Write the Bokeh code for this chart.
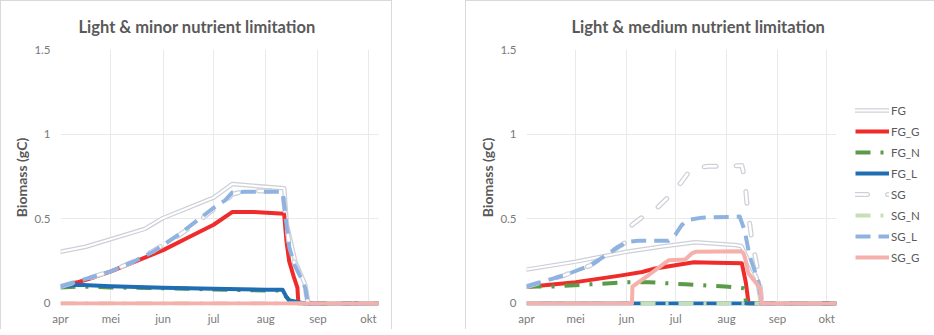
from bokeh.plotting import figure
from bokeh.models import (FixedTicker, Legend, LegendItem, Title, Spacer,
                          NumeralTickFormatter, GlobalInlineStyleSheet)
from bokeh.layouts import row, column
from bokeh.embed import file_html
from bokeh.resources import INLINE

# ---------------- data ----------------
MONTH_DAYS = [0, 30, 61, 91, 122, 153, 183]          # days since 1 April
MONTH_LABELS = ["apr", "mei", "jun", "jul", "aug", "sep", "okt"]
X_END = 189
Y_TICKS = [0, 0.5, 1, 1.5]
SERIES = ["FG", "FG_G", "FG_N", "FG_L", "SG", "SG_N", "SG_L", "SG_G"]

TITLE_LEFT = "Light & minor nutrient limitation"
TITLE_RIGHT = "Light & medium nutrient limitation"

# Left panel: light & minor nutrient limitation
L_FG_x = [0, 15, 30, 50, 61, 91, 102, 133, 134.5, 139.5, 145.5, 147, 148, 189]
L_FG_y = [0.305, 0.335, 0.38, 0.44, 0.505, 0.625, 0.705, 0.68, 0.47, 0.25, 0.11, 0.02, 0, 0]
L_FG_G_x = [0, 10, 20, 30, 45, 61, 75, 91, 102, 115, 132.9, 134.3, 135.9, 138.8, 140.8, 141.4, 189]
L_FG_G_y = [0.10, 0.125, 0.155, 0.19, 0.25, 0.315, 0.385, 0.465, 0.54, 0.54, 0.53, 0.368, 0.25, 0.152, 0.093, 0, 0]
L_FG_N_x = [0, 10, 30, 61, 91, 122, 132, 134, 136, 140, 145, 189]
L_FG_N_y = [0.095, 0.10, 0.095, 0.09, 0.083, 0.077, 0.077, 0.04, 0.018, 0.008, 0, 0]
L_FG_L_x = [0, 10, 30, 61, 91, 122, 132, 134, 136, 140, 145, 189]
L_FG_L_y = [0.10, 0.11, 0.102, 0.093, 0.087, 0.081, 0.081, 0.043, 0.018, 0.01, 0, 0]
L_SG_x = [0, 10, 20, 30, 45, 55, 61, 70, 80, 91, 98, 102, 110, 132, 134, 136, 139, 143, 145.5, 146.7, 147.2, 189]
L_SG_y = [0.10, 0.13, 0.16, 0.19, 0.255, 0.31, 0.345, 0.40, 0.47, 0.555, 0.60, 0.645, 0.665, 0.665, 0.50, 0.34, 0.24, 0.16, 0.09, 0.02, 0, 0]
L_SG_N_x = [0, 189]
L_SG_N_y = [0, 0]
L_SG_L_x = [0, 10, 20, 30, 45, 55, 61, 70, 80, 91, 98, 102, 110, 132, 134, 136, 139, 143, 145.5, 146.7, 147.2, 189]
L_SG_L_y = [0.10, 0.13, 0.16, 0.19, 0.255, 0.305, 0.345, 0.405, 0.48, 0.565, 0.61, 0.655, 0.66, 0.66, 0.49, 0.33, 0.23, 0.15, 0.09, 0.02, 0, 0]
L_SG_G_x = [0, 189]
L_SG_G_y = [0, 0]

# Right panel: light & medium nutrient limitation
R_FG_x = [0, 30, 61, 82.6, 103, 127, 131, 135, 140.4, 142, 143, 189]
R_FG_y = [0.20, 0.247, 0.306, 0.336, 0.362, 0.345, 0.34, 0.26, 0.15, 0.06, 0, 0]
R_FG_G_x = [0, 30, 58, 70.5, 78.5, 102, 115, 131.3, 133.7, 135.4, 189]
R_FG_G_y = [0.097, 0.126, 0.166, 0.186, 0.207, 0.243, 0.24, 0.237, 0.125, 0, 0]
R_FG_N_x = [0, 16, 39, 62.6, 74.5, 96.7, 121, 132.5, 134, 189]
R_FG_N_y = [0.10, 0.10, 0.113, 0.126, 0.126, 0.113, 0.10, 0.09, 0, 0]
R_FG_L_x = [0, 189]
R_FG_L_y = [0, 0]
R_SG_x = [0, 9.5, 23, 39, 50, 61, 64.3, 72.4, 80.5, 87.6, 94.7, 100.8, 111, 121, 131.3, 133, 134.5, 137.5, 142, 143.5, 189]
R_SG_y = [0.10, 0.128, 0.166, 0.225, 0.295, 0.365, 0.464, 0.523, 0.572, 0.64, 0.72, 0.80, 0.81, 0.81, 0.815, 0.74, 0.58, 0.37, 0.15, 0, 0]
R_SG_N_x = [0, 189]
R_SG_N_y = [0, 0]
R_SG_L_x = [0, 9.5, 23, 39, 50, 56, 62, 68, 86.6, 90.7, 94.7, 98.8, 107, 130, 133, 136, 141.6, 143, 189]
R_SG_L_y = [0.10, 0.128, 0.166, 0.225, 0.295, 0.335, 0.364, 0.37, 0.37, 0.405, 0.464, 0.493, 0.507, 0.513, 0.43, 0.28, 0.125, 0, 0]
R_SG_G_x = [0, 64.3, 64.6, 69, 74.5, 82.6, 86.6, 96.8, 100.8, 103, 131, 132.3, 133.3, 135.3, 139.4, 142.4, 143.4, 189]
R_SG_G_y = [0, 0, 0.10, 0.13, 0.168, 0.227, 0.255, 0.26, 0.296, 0.305, 0.308, 0.296, 0.266, 0.178, 0.128, 0.089, 0, 0]

LEFT = {
    "FG": (L_FG_x, L_FG_y), "FG_G": (L_FG_G_x, L_FG_G_y), "FG_N": (L_FG_N_x, L_FG_N_y),
    "FG_L": (L_FG_L_x, L_FG_L_y), "SG": (L_SG_x, L_SG_y), "SG_N": (L_SG_N_x, L_SG_N_y),
    "SG_L": (L_SG_L_x, L_SG_L_y), "SG_G": (L_SG_G_x, L_SG_G_y),
}
RIGHT = {
    "FG": (R_FG_x, R_FG_y), "FG_G": (R_FG_G_x, R_FG_G_y), "FG_N": (R_FG_N_x, R_FG_N_y),
    "FG_L": (R_FG_L_x, R_FG_L_y), "SG": (R_SG_x, R_SG_y), "SG_N": (R_SG_N_x, R_SG_N_y),
    "SG_L": (R_SG_L_x, R_SG_L_y), "SG_G": (R_SG_G_x, R_SG_G_y),
}

# ---------------- styles ----------------
FONT = "Lato"
TEXT_GREY = "#595959"
TICK_GREY = "#7a7a7a"
GRID = "#e9e9e9"
BOX = "#d9d9d9"

STYLES = {
    "FG":   dict(double=True, outer="#cdd0d8", ow=4.5, iw=2.0, dash="solid"),
    "FG_G": dict(double=False, color="#f02b2b", w=4, dash="solid"),
    "FG_N": dict(double=False, color="#5a9a48", w=4, dash="15 10 3 10"),
    "FG_L": dict(double=False, color="#1f6eb3", w=4, dash="solid"),
    "SG":   dict(double=True, outer="#cdd0d8", ow=5, iw=2.5, dash="12 20"),
    "SG_N": dict(double=False, color="#c5e0b4", w=4, dash="15 10 3 10"),
    "SG_L": dict(double=False, color="#8fb3e0", w=4, dash="15 8"),
    "SG_G": dict(double=False, color="#f5b0ab", w=4, dash="solid"),
}


def make_panel(title, data, frame_w, border_left, border_right, title_offset, with_legend):
    p = figure(frame_width=frame_w, frame_height=256, x_range=(0, X_END), y_range=(-0.012, 1.5),
               output_backend="svg", toolbar_location=None,
               min_border_left=border_left, min_border_right=border_right,
               min_border_top=46, min_border_bottom=24,
               outline_line_color=None, background_fill_color="white",
               border_fill_color="white")

    p.xaxis.ticker = FixedTicker(ticks=MONTH_DAYS)
    p.xaxis.major_label_overrides = dict(zip(MONTH_DAYS, MONTH_LABELS))
    p.yaxis.ticker = FixedTicker(ticks=Y_TICKS)
    p.yaxis.formatter = NumeralTickFormatter(format="0.[0]")
    for ax in (p.xaxis, p.yaxis):
        ax.axis_line_color = None
        ax.major_tick_line_color = None
        ax.minor_tick_line_color = None
        ax.major_tick_out = 0
        ax.major_tick_in = 0
        ax.minor_tick_out = 0
        ax.minor_tick_in = 0
        ax.major_label_text_font = FONT
        ax.major_label_text_font_size = "11.5px"
        ax.major_label_text_color = TICK_GREY
    p.xaxis.major_label_standoff = 6
    p.yaxis.major_label_standoff = 10
    p.yaxis.axis_label = "Biomass (gC)"
    p.yaxis.axis_label_text_font = FONT
    p.yaxis.axis_label_text_font_style = "bold"
    p.yaxis.axis_label_text_font_size = "14px"
    p.yaxis.axis_label_text_color = TEXT_GREY
    p.yaxis.axis_label_standoff = 1
    p.xgrid.grid_line_color = GRID
    p.ygrid.grid_line_color = GRID

    items = []
    for name in SERIES:
        xs, ys = data[name]
        st = STYLES[name]
        if st["double"]:
            r1 = p.line(xs, ys, line_color=st["outer"], line_width=st["ow"],
                        line_dash=st["dash"], line_cap="round", line_join="round")
            r2 = p.line(xs, ys, line_color="white", line_width=st["iw"],
                        line_dash=st["dash"], line_cap="round", line_join="round")
            rs = [r1, r2]
        else:
            r = p.line(xs, ys, line_color=st["color"], line_width=st["w"],
                       line_dash=st["dash"], line_join="round")
            rs = [r]
        items.append(LegendItem(label=name, renderers=rs))

    p.add_layout(Title(text=title, align="left", offset=title_offset, standoff=26,
                       text_font=FONT, text_font_style="bold", text_font_size="16.5px",
                       text_color=TEXT_GREY), "above")

    if with_legend:
        leg = Legend(items=items, location=(19, 38), glyph_width=34, glyph_height=20,
                     label_height=20, label_standoff=2, spacing=1, padding=0, margin=8,
                     border_line_color=None, background_fill_alpha=0,
                     label_text_font=FONT, label_text_font_size="11.5px",
                     label_text_color=TEXT_GREY)
        p.add_layout(leg, "right")
    return p


p1 = make_panel(TITLE_LEFT, LEFT, 318, 59, 13, 18, False)
p2 = make_panel(TITLE_RIGHT, RIGHT, 310, 60, 79, 45, True)

box_style = {"border": f"1px solid {BOX}", "border-bottom": "none"}
c1 = column(p1, styles=box_style)
c2 = column(p2, styles=box_style)

layout = row(c1, Spacer(width=73, height=10), c2,
             styles={"margin-bottom": "-8px"},
             stylesheets=[GlobalInlineStyleSheet(css="html, body { overflow: hidden; }")])

open("out.html", "w").write(file_html(layout, INLINE))
